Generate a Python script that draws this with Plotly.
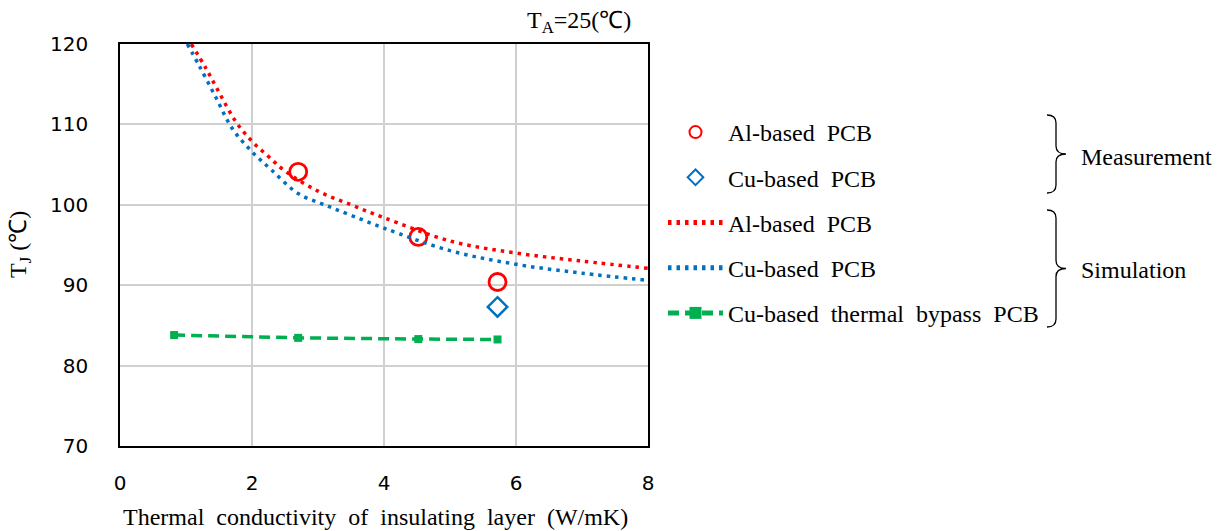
import plotly.graph_objects as go

# ---- data ----
meas_al_x = [2.70, 4.52, 5.72]
meas_al_y = [104.1, 96.0, 90.4]
meas_cu_x = [5.72]
meas_cu_y = [87.3]

sim_al_x = [1.08, 1.3, 1.5, 1.75, 2.0, 2.25, 2.5, 3.0, 3.5, 4.0, 5.0, 6.0, 7.0, 8.0]
sim_al_y = [120.0, 117.0, 114.0, 110.4, 107.9, 106.0, 104.2, 101.7, 100.0, 98.4, 95.5, 94.0, 93.0, 92.1]

sim_cu_x = [1.02, 1.2, 1.45, 1.7, 2.0, 2.3, 2.7, 3.1, 3.5, 4.0, 5.0, 6.0, 7.0, 8.0]
sim_cu_y = [120.0, 117.3, 113.4, 109.5, 106.6, 104.3, 101.4, 100.0, 98.7, 97.1, 94.3, 92.6, 91.5, 90.6]

bypass_x = [0.82, 2.70, 4.52, 5.72]
bypass_y = [83.8, 83.45, 83.3, 83.25]

x_ticks = [0, 2, 4, 6, 8]
y_ticks = [70, 80, 90, 100, 110, 120]

RED = "#FF0000"
BLUE = "#0070C0"
GREEN = "#00B050"
SERIF = "Liberation Serif"
SANS = "DejaVu Sans"
FS = 24

fig = go.Figure()
fig.add_trace(go.Scatter(x=meas_al_x, y=meas_al_y, mode="markers", name="Al-based\u00a0 PCB",
                         legendgroup="g1",
                         marker=dict(symbol="circle-open", size=17, color=RED, line=dict(width=2.8, color=RED))))
fig.add_trace(go.Scatter(x=meas_cu_x, y=meas_cu_y, mode="markers", name="Cu-based\u00a0 PCB",
                         legendgroup="g2",
                         marker=dict(symbol="diamond-open", size=15, color=BLUE, line=dict(width=2.5, color=BLUE))))
fig.add_trace(go.Scatter(x=sim_al_x, y=sim_al_y, mode="lines", name="Al-based\u00a0 PCB",
                         legendgroup="g3", line=dict(color=RED, width=3.5, dash="3.5px,5px", shape="spline")))
fig.add_trace(go.Scatter(x=sim_cu_x, y=sim_cu_y, mode="lines", name="Cu-based\u00a0 PCB",
                         legendgroup="g4", line=dict(color=BLUE, width=3.5, dash="3.5px,5px", shape="spline")))
fig.add_trace(go.Scatter(x=bypass_x, y=bypass_y, mode="lines+markers", name="Cu-based\u00a0 thermal\u00a0 bypass\u00a0 PCB",
                         legendgroup="g5", line=dict(color=GREEN, width=3.5, dash="11px,6px"),
                         marker=dict(symbol="square", size=8, color=GREEN)))

# plot area in pixels
L, R, T, B = 120, 648, 44, 446
W, H = R - L, B - T


def px(x):
    return (x - L) / W


def py(y):
    return (B - y) / H


def brace(x0, ytop, ybot, w=9, tip=10, r=8):
    ym = (ytop + ybot) / 2
    xs = x0 + w
    pts = [
        f"M{px(x0)},{py(ytop)}",
        f"Q{px(xs)},{py(ytop)} {px(xs)},{py(ytop + r)}",
        f"L{px(xs)},{py(ym - r)}",
        f"Q{px(xs)},{py(ym)} {px(xs + tip)},{py(ym)}",
        f"Q{px(xs)},{py(ym)} {px(xs)},{py(ym + r)}",
        f"L{px(xs)},{py(ybot - r)}",
        f"Q{px(xs)},{py(ybot)} {px(x0)},{py(ybot)}",
    ]
    return " ".join(pts)


shapes = [
    dict(type="path", xref="paper", yref="paper", path=brace(1047, 115, 193),
         line=dict(color="black", width=1.3)),
    dict(type="path", xref="paper", yref="paper", path=brace(1047, 210, 327),
         line=dict(color="black", width=1.3)),
]

annotations = [
    dict(text="Measurement", x=px(1079), y=py(157), xref="paper", yref="paper", xanchor="left",
         yanchor="middle", showarrow=False, font=dict(family=SERIF, size=FS, color="black")),
    dict(text="Simulation", x=px(1079), y=py(270), xref="paper", yref="paper", xanchor="left",
         yanchor="middle", showarrow=False, font=dict(family=SERIF, size=FS, color="black")),
    dict(text="T<sub>A</sub>=25(℃)", x=px(633), y=py(22), xref="paper", yref="paper", xanchor="right",
         yanchor="middle", showarrow=False, font=dict(family=SERIF, size=FS, color="black")),
    dict(text="Thermal\u00a0 conductivity\u00a0 of\u00a0 insulating\u00a0 layer\u00a0 (W/mK)", x=px(375), y=py(517),
         xref="paper", yref="paper", xanchor="center", yanchor="middle", showarrow=False,
         font=dict(family=SERIF, size=FS, color="black")),
    dict(text="T<sub>J</sub> (℃)", x=px(20), y=py(245), xref="paper", yref="paper", xanchor="center",
         yanchor="middle", textangle=-90, showarrow=False, font=dict(family=SERIF, size=FS, color="black")),
]

fig.update_layout(
    width=1229, height=531,
    margin=dict(l=L, r=1229 - R, t=T, b=531 - B, pad=0),
    paper_bgcolor="white", plot_bgcolor="white",
    showlegend=True,
    legend=dict(x=px(663), y=py(110), xanchor="left", yanchor="top", traceorder="grouped",
                tracegroupgap=11, font=dict(family=SERIF, size=FS, color="black"),
                bgcolor="rgba(0,0,0,0)", itemwidth=55, itemsizing="constant"),
    shapes=shapes,
    annotations=annotations,
)
fig.update_xaxes(range=[0, 8], tickvals=x_ticks, showgrid=True, gridcolor="#D0D0D0", gridwidth=1.5,
                 showline=True, linecolor="black", linewidth=1.5, mirror=True, zeroline=False,
                 ticks="", ticklabelstandoff=18, tickfont=dict(family=SANS, size=20, color="black"))
fig.update_yaxes(range=[70, 120], tickvals=y_ticks, showgrid=True, gridcolor="#D0D0D0", gridwidth=1.5,
                 showline=True, linecolor="black", linewidth=1.5, mirror=True, zeroline=False,
                 ticks="", ticklabelstandoff=26, tickfont=dict(family=SANS, size=20, color="black"))

fig.write_html("out.html")
